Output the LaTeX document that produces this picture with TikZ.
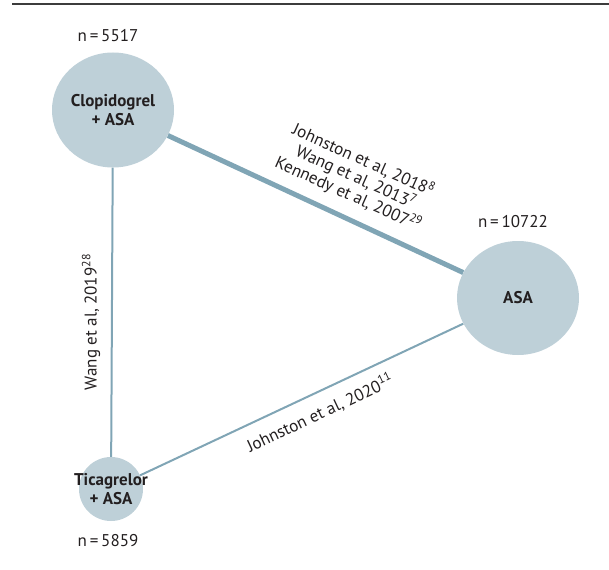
\documentclass[tikz,border=0pt]{standalone}
\usepackage{fontspec}
\setmainfont{PT Sans}
\usepackage{tikz}
\usetikzlibrary{
  shapes.geometric,
  positioning,
  calc
}
\definecolor{nodecolor}{RGB}{190, 208, 216}
\definecolor{edgecolor}{RGB}{128, 165, 181}
\definecolor{labelcolor}{RGB}{35, 31, 32}
\definecolor{rulecolor}{RGB}{60, 60, 60}
\tikzset{
treatment/.style={
  ellipse,
  fill=nodecolor,
  inner sep=0pt,
  align=center,
  font=\bfseries\fontsize{17}{19}\selectfont,
  text=labelcolor
},
countlabel/.style={
  font=\fontsize{17}{18}\selectfont,
  text=labelcolor
},
studylabel/.style={
  font=\fontsize{17}{18.5}\selectfont,
  text=labelcolor,
  align=center,
  inner sep=1pt
},
thinedge/.style={
  draw=edgecolor,
  line width=2pt
},
thickedge/.style={
  draw=edgecolor,
  line width=5pt
}
}

\begin{document}
\begin{tikzpicture}[x=1pt, y=-1pt]
  \useasboundingbox (0,0) rectangle (609,569);

  % top rule
  \coordinate (ruleL) at (12,4);
  \coordinate (ruleR) at (609,4);
  \draw[rulecolor, line width=1.2pt] (ruleL) -- (ruleR);

  % treatments
  \node[treatment, minimum width=122pt, minimum height=115pt] (clop) at (113,110) {Clopidogrel\\+ ASA};
  \node[treatment, minimum width=122pt, minimum height=114pt] (asa) at (518,298) {ASA};
  \node[treatment, circle, inner sep=-12pt, minimum size=64pt] (tica) at (111,489) {Ticagrelor\\+ ASA};

  % sample sizes
  \node[countlabel] (nclop) at (108,36) {n\,=\,5517};
  \node[countlabel] (nasa) at (513,222) {n\,=\,10722};
  \node[countlabel] (ntica) at (108,541) {n\,=\,5859};

  % comparisons
  \draw[thickedge] (clop) -- (asa);
  \draw[thinedge] (clop) -- (tica);
  \draw[thinedge] (tica) -- (asa);

  % study labels
  \node[studylabel, rotate=-24.2] (lbl1) at (356,177)
    {Johnston et al, 2018\textsuperscript{8}\\Wang et al, 2013\textsuperscript{7}\\Kennedy et al, 2007\textsuperscript{29}};
  \node[studylabel, rotate=90] (lbl2) at (91,322) {Wang et al, 2019\textsuperscript{28}};
  \node[studylabel, rotate=25.2] (lbl3) at (320,413) {Johnston et al, 2020\textsuperscript{11}};
\end{tikzpicture}
\end{document}
